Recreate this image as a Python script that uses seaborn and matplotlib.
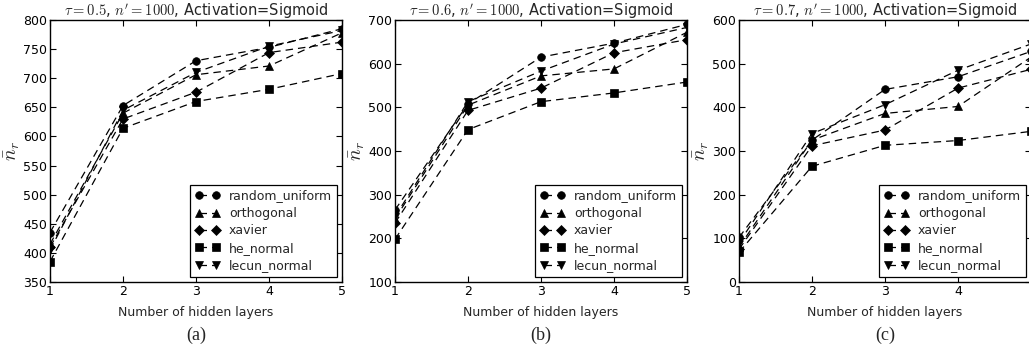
import numpy as np
import pandas as pd
import matplotlib
matplotlib.use("Agg")
import matplotlib.pyplot as plt
import seaborn as sns

# ---- data ----
layers = [1, 2, 3, 4, 5]
inits = ["random_uniform", "orthogonal", "xavier", "he_normal", "lecun_normal"]
markers = ["o", "^", "D", "s", "v"]

taus = ["0.5", "0.6", "0.7"]
captions = ["(a)", "(b)", "(c)"]

a_random_uniform = [435, 653, 730, 753, 785]
a_orthogonal = [415, 640, 706, 721, 778]
a_xavier = [410, 630, 676, 744, 762]
a_he_normal = [385, 614, 660, 681, 708]
a_lecun_normal = [405, 645, 710, 755, 782]

b_random_uniform = [265, 508, 615, 647, 690]
b_orthogonal = [245, 505, 572, 588, 672]
b_xavier = [235, 493, 544, 625, 655]
b_he_normal = [198, 449, 513, 533, 558]
b_lecun_normal = [250, 513, 583, 645, 683]

c_random_uniform = [102, 325, 441, 470, 528]
c_orthogonal = [80, 325, 386, 402, 515]
c_xavier = [75, 312, 348, 444, 487]
c_he_normal = [68, 265, 313, 324, 345]
c_lecun_normal = [90, 340, 406, 485, 545]

panels = [
    [a_random_uniform, a_orthogonal, a_xavier, a_he_normal, a_lecun_normal],
    [b_random_uniform, b_orthogonal, b_xavier, b_he_normal, b_lecun_normal],
    [c_random_uniform, c_orthogonal, c_xavier, c_he_normal, c_lecun_normal],
]
ylims = [(350, 800), (100, 700), (0, 600)]
ysteps = [50, 100, 100]

# ---- style ----
sns.set_theme(style="ticks")
plt.rcParams.update({
    "font.family": ["DejaVu Sans"],
    "mathtext.fontset": "cm",
    "xtick.direction": "in",
    "ytick.direction": "in",
    "xtick.top": True,
    "ytick.right": True,
    "xtick.major.size": 4,
    "ytick.major.size": 4,
    "xtick.major.width": 0.8,
    "ytick.major.width": 0.8,
    "axes.edgecolor": "black",
    "axes.linewidth": 1.0,
    "xtick.color": "black",
    "ytick.color": "black",
    "xtick.labelsize": 9,
    "ytick.labelsize": 9,
})

fig = plt.figure(figsize=(10.29, 3.54), dpi=100)
lefts = [50 / 1029, 395 / 1029, 739 / 1029]
width = 292 / 1029
bottom = 1 - 282 / 354
height = 262 / 354

for i, vals in enumerate(panels):
    ax = fig.add_axes([lefts[i], bottom, width, height])
    rows = []
    for name, series in zip(inits, vals):
        for x, y in zip(layers, series):
            rows.append({"layers": x, "value": y, "init": name})
    df = pd.DataFrame(rows)
    sns.lineplot(data=df, x="layers", y="value", style="init", style_order=inits,
                 markers=markers, dashes=[(6, 4)] * 5, color="black",
                 markersize=5.5, markeredgecolor="black", markeredgewidth=0.5,
                 linewidth=0.9, legend=False, ax=ax)
    ax.set_xlim(1, 5)
    ax.set_ylim(*ylims[i])
    ax.set_xticks(layers)
    if i == 2:
        # the rightmost label falls outside the image in the reference
        ax.set_xticklabels([str(v) for v in layers[:-1]] + [""])
    ax.set_yticks(np.arange(ylims[i][0], ylims[i][1] + 1, ysteps[i]))
    ax.tick_params(pad=2)
    ax.set_xlabel("Number of hidden layers", fontsize=9, labelpad=6)
    ax.set_ylabel(r"$\bar{n}_r$", fontsize=14, labelpad=1)
    ax.set_title(r"$\tau=0.%s$, $n'=1000$, Activation=Sigmoid" % taus[i][-1],
                 fontsize=10.5, pad=2)
    handles = ax.lines[:5]
    leg = ax.legend(handles, inits, loc="lower right", numpoints=2,
                    fontsize=9, handlelength=2.0, handletextpad=0.7,
                    borderaxespad=0.4, labelspacing=0.35, borderpad=0.4,
                    fancybox=False, framealpha=1, edgecolor="black")
    leg.get_frame().set_linewidth(0.9)
    fig.text(lefts[i] + width / 2, 1 - 335 / 354, captions[i],
             family="Liberation Serif", fontsize=13, ha="center", va="center")

fig.savefig("out.png", dpi=100)
